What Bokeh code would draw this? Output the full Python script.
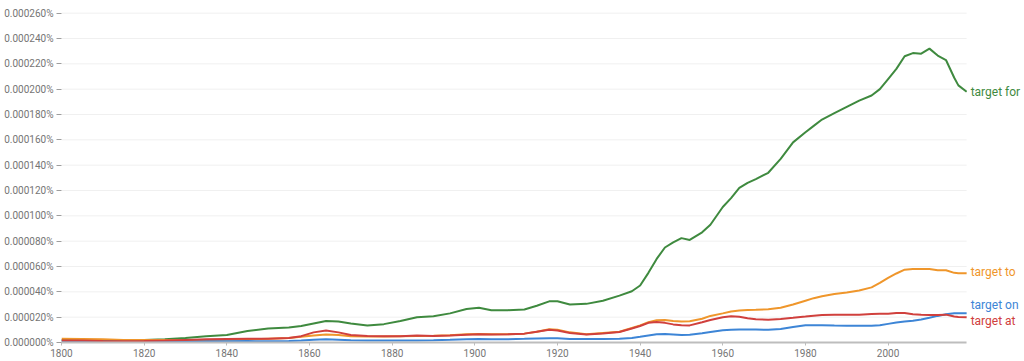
from bokeh.plotting import figure
from bokeh.models import Label, Range1d, CustomJSTickFormatter, FixedTicker
from bokeh.embed import file_html
from bokeh.resources import INLINE

years = [1800, 1805, 1810, 1815, 1820, 1825, 1830, 1835, 1840, 1845, 1850, 1855, 1858, 1861, 1864, 1867,
         1870, 1874, 1878, 1882, 1886, 1890, 1894, 1898, 1901, 1904, 1908, 1912, 1915, 1918, 1920, 1923,
         1927, 1931, 1935, 1938, 1940, 1942, 1944, 1946, 1948, 1950, 1952, 1955, 1957, 1960, 1962, 1964,
         1966, 1968, 1971, 1974, 1977, 1980, 1982, 1984, 1987, 1990, 1993, 1996, 1998, 2000, 2002, 2004,
         2006, 2008, 2010, 2012, 2014, 2016, 2017, 2019]

# values in units of 0.000001 %
target_for = [2, 2, 2, 1.8, 2, 2.5, 3.5, 5, 6, 9, 11, 11.8, 13, 15, 17, 16.5,
              15, 13.5, 14.5, 17, 20, 20.8, 23, 26.5, 27.5, 25.5, 25.5, 26, 29, 32.5, 32.5, 30,
              30.5, 33, 37, 40.5, 45, 55, 66, 75, 79, 82.4, 81, 87, 93, 107, 114, 122,
              126, 129, 134, 145, 158, 166, 171, 176, 181, 186, 191, 195, 200, 208, 216, 226,
              228.5, 228, 232, 226.5, 223, 209, 203, 198]
target_to = [3, 2.8, 2.5, 2, 2, 2, 1.8, 2, 2.2, 2.5, 3, 3.5, 4.5, 5.5, 6.3, 6,
             5, 4.8, 4.8, 5, 5.2, 5.3, 5.8, 6.5, 6.8, 6.5, 6.5, 7, 8.5, 10.5, 10, 8,
             6.5, 7.5, 8.5, 11.5, 13.5, 16, 17.5, 17.8, 17, 16.6, 16.8, 18.8, 21, 23, 24.5, 25.3,
             25.6, 25.8, 26.3, 27.5, 30, 33, 35, 36.5, 38.3, 39.5, 41, 43.5, 47, 51, 54.5, 57.5,
             58, 58, 58, 57, 57, 55, 54.7, 54.6]
target_on = [1.2, 1, 0.8, 0.6, 0.6, 0.7, 0.8, 0.9, 1, 1.1, 1, 1.1, 1.5, 2.2, 2.5, 2.2,
             1.7, 1.5, 1.5, 1.6, 1.6, 1.8, 2.1, 2.6, 2.8, 2.5, 2.6, 2.9, 3.2, 3.4, 3.3, 2.8,
             2.7, 2.8, 3, 3.6, 4.5, 5.5, 6.5, 6.8, 6.4, 6, 6.1, 7.3, 8.3, 9.6, 10, 10.2,
             10.2, 10.2, 10, 10.6, 12.2, 13.6, 13.7, 13.6, 13.4, 13.3, 13.2, 13.3, 13.6, 14.7, 15.7, 16.5,
             17.2, 18.2, 19.5, 21, 22.3, 23, 23, 23]
target_at = [1.5, 1.5, 1.2, 1, 1.2, 1.5, 2, 2.5, 2.8, 3, 3, 3.5, 5, 8, 9.4, 8,
             6, 5.2, 5, 5, 5.5, 5.2, 5.5, 6.2, 6.5, 6.3, 6.5, 7, 8.5, 10, 9.5, 7.5,
             6.3, 7.2, 8.3, 11, 13, 15.5, 16.2, 15.5, 14.3, 13.6, 13.5, 16, 17.8, 20, 20.7, 20.3,
             19.2, 18.3, 18, 18.6, 19.5, 20.5, 21.2, 21.8, 22, 22, 22, 22.5, 22.6, 22.7, 23.2, 23.2,
             22.3, 22, 21.8, 21.8, 22, 20.5, 20.2, 20]

series_names = ["target for", "target to", "target on", "target at"]
series_values = [target_for, target_to, target_on, target_at]
series_colors = ["#3f8a3f", "#ef962b", "#3d85d6", "#d0403d"]
label_offsets = [0, 1, 8, -4]

y_ticks = list(range(0, 261, 20))
x_ticks = list(range(1800, 2001, 20))

p = figure(width=1024, height=361, output_backend="svg", toolbar_location=None,
           x_range=Range1d(1800, 2033), y_range=Range1d(0, 270),
           min_border_left=61, min_border_right=0, min_border_top=0, min_border_bottom=19)
p.outline_line_color = None
p.background_fill_color = "white"

# horizontal grid lines spanning only the data years
p.segment(x0=[years[0]] * len(y_ticks), x1=[years[-1]] * len(y_ticks), y0=y_ticks, y1=y_ticks,
          line_color="#f0f0f0", line_width=1)

for name, vals, col in zip(series_names, series_values, series_colors):
    p.line(years, vals, line_color=col, line_width=2)

for name, vals, col, off in zip(series_names, series_values, series_colors, label_offsets):
    p.add_layout(Label(x=years[-1], y=vals[-1], text=name, x_offset=4, y_offset=off,
                       text_baseline="middle", text_align="left", text_color=col,
                       text_font="Roboto", text_font_size="12px"))

p.xgrid.grid_line_color = None
p.ygrid.grid_line_color = None

p.yaxis.ticker = FixedTicker(ticks=y_ticks)
p.yaxis.formatter = CustomJSTickFormatter(code="return (tick/1000000).toFixed(6) + '%';")
p.yaxis.axis_line_color = None
p.yaxis.major_tick_out = 5
p.yaxis.major_tick_in = 0
p.yaxis.minor_tick_line_color = None
p.yaxis.major_tick_line_color = "#9e9e9e"
p.yaxis.major_label_standoff = 3

p.xaxis.ticker = FixedTicker(ticks=x_ticks)
p.xaxis.bounds = (years[0], years[-1])
p.xaxis.axis_line_color = "#bdbdbd"
p.xaxis.axis_line_width = 2
p.xaxis.major_tick_out = 3
p.xaxis.major_tick_in = 0
p.xaxis.major_tick_line_color = "#bdbdbd"
p.xaxis.minor_tick_line_color = None
p.xaxis.major_label_standoff = 3

for ax in (p.xaxis, p.yaxis):
    ax.major_label_text_font = "Roboto"
    ax.major_label_text_font_size = "10px"
    ax.major_label_text_color = "#757575"

open("out.html", "w").write(file_html(p, INLINE))
